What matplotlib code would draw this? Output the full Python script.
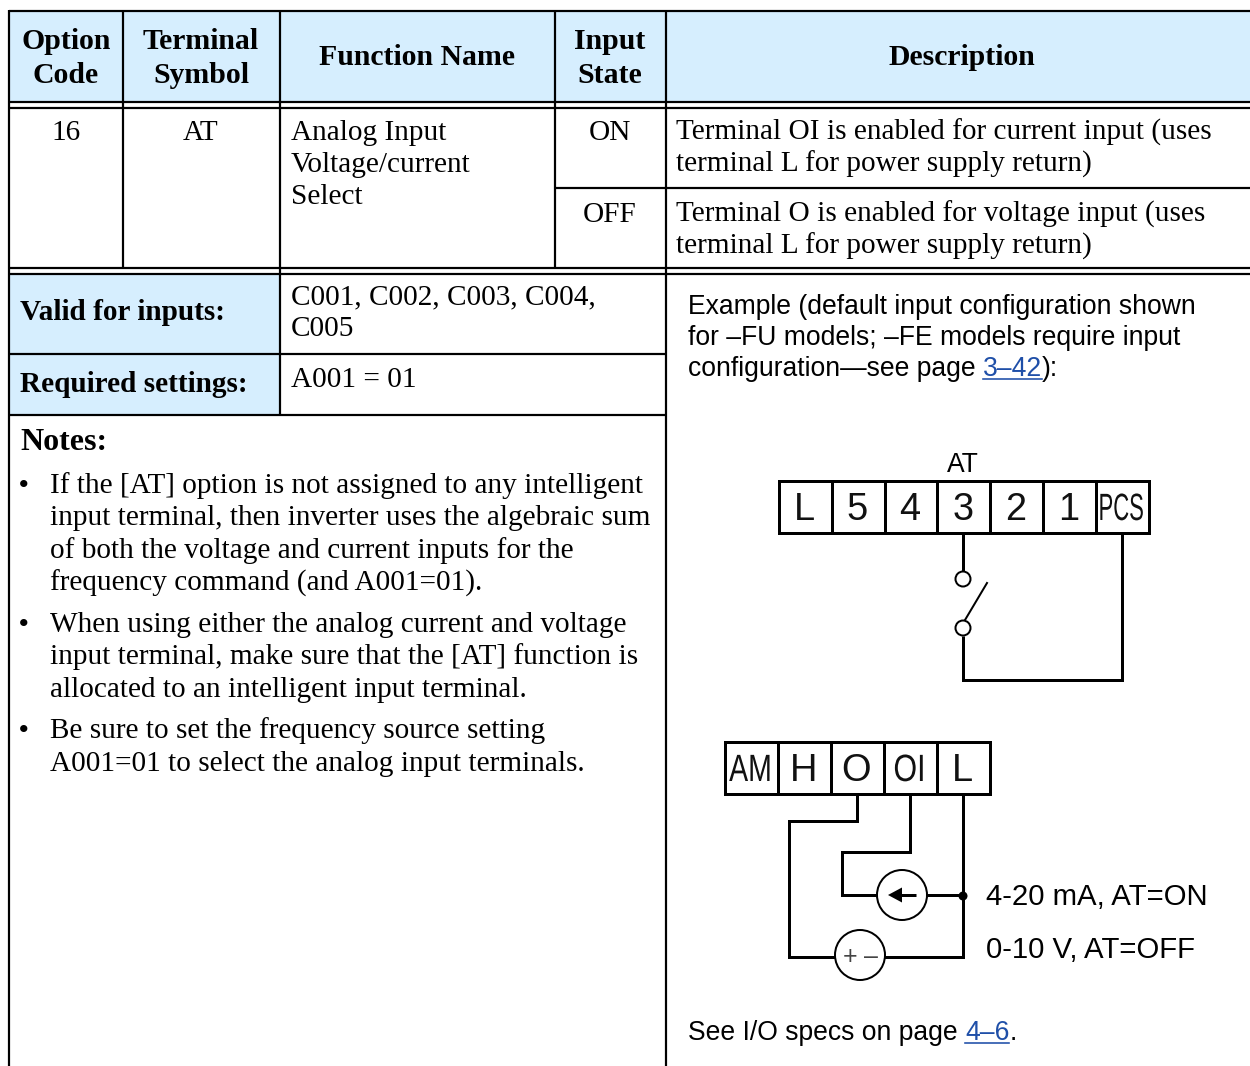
import matplotlib
matplotlib.use("Agg")
import matplotlib.pyplot as plt
import matplotlib.patheffects as pe
from matplotlib.patches import Circle, Rectangle, Polygon
from matplotlib.transforms import Affine2D

WIDTH, HEIGHT = 1250, 1066
SERIF = "Liberation Serif"
SANS = "Liberation Sans"
HEADER_BLUE = "#D6EEFE"
LINK_BLUE = "#1F4FA8"
BODY = 29.3
NOTE = 26.5

# table text
header_cells = [("Option\nCode", 66), ("Terminal\nSymbol", 201), ("Function Name", 417),
                ("Input\nState", 610), ("Description", 962)]
option_code = "16"
terminal_symbol = "AT"
function_name = ["Analog Input", "Voltage/current", "Select"]
input_states = ["ON", "OFF"]
descriptions = [["Terminal OI is enabled for current input (uses", "terminal L for power supply return)"],
                ["Terminal O is enabled for voltage input (uses", "terminal L for power supply return)"]]
valid_label = "Valid for inputs:"
valid_values = ["C001, C002, C003, C004,", "C005"]
required_label = "Required settings:"
required_value = "A001 = 01"
notes_title = "Notes:"
notes = [["If the [AT] option is not assigned to any intelligent",
          "input terminal, then inverter uses the algebraic sum",
          "of both the voltage and current inputs for the",
          "frequency command (and A001=01)."],
         ["When using either the analog current and voltage",
          "input terminal, make sure that the [AT] function is",
          "allocated to an intelligent input terminal."],
         ["Be sure to set the frequency source setting",
          "A001=01 to select the analog input terminals."]]

# diagram text
example_lines = ["Example (default input configuration shown",
                 "for \u2013FU models; \u2013FE models require input"]
example_last = ["configuration\u2014see page ", "3\u201342", "):"]
io_note = ["See I/O specs on page ", "4\u20136", "."]
top_terminals = ["L", "5", "4", "3", "2", "1", "PCS"]
bottom_terminals = ["AM", "H", "O", "OI", "L"]
current_label = "4-20 mA, AT=ON"
voltage_label = "0-10 V, AT=OFF"

fig = plt.figure(figsize=(WIDTH / 100, HEIGHT / 100), dpi=100)
ax = fig.add_axes([0, 0, 1, 1])
ax.set_xlim(0, WIDTH)
ax.set_ylim(HEIGHT, 0)
ax.axis("off")


class Squeeze(pe.AbstractPathEffect):
    # narrows a text around its centre, the terminal labels are condensed
    def __init__(self, centre, factor):
        super().__init__()
        self.centre = centre
        self.factor = factor

    def draw_path(self, renderer, gc, tpath, affine, rgbFace=None):
        squeeze = Affine2D().translate(-self.centre, 0).scale(self.factor, 1).translate(self.centre, 0)
        renderer.draw_path(gc, tpath, affine + squeeze, rgbFace)


def px(size):
    return size * 72 / 100


def wire(xs, ys, width=3):
    ax.plot(xs, ys, color="black", lw=px(width), solid_capstyle="butt", solid_joinstyle="miter", zorder=3)


def rule(xs, ys, width=2.2):
    ax.plot(xs, ys, color="black", lw=px(width), solid_capstyle="butt", zorder=4)


def put(x, y, s, size=BODY, family=SERIF, **kw):
    return ax.text(x, y, s, fontsize=px(size), family=family, va="baseline", color="black", **kw)


def put_link_line(x, y, parts, size):
    # plain, link, plain
    renderer = fig.canvas.get_renderer()
    for i, part in enumerate(parts):
        colour = LINK_BLUE if i == 1 else "black"
        t = ax.text(x, y, part, fontsize=px(size), family=SANS, va="baseline", color=colour)
        end = x + t.get_window_extent(renderer).width
        if i == 1:
            ax.plot([x, end], [y + 3, y + 3], color=LINK_BLUE, lw=px(1.6), zorder=3)
        x = end


def terminal_strip(left, top, bottom, step, labels):
    edges = [left + step * i for i in range(len(labels) + 1)]
    ax.add_patch(Rectangle((left, top), edges[-1] - left, bottom - top, fill=False, ec="black",
                           lw=px(3), joinstyle="miter", zorder=3))
    for e in edges[1:-1]:
        wire([e, e], [top, bottom])
    for i, label in enumerate(labels):
        centre = (edges[i] + edges[i + 1]) / 2 - 1
        t = ax.text(centre, bottom - 13, label, fontsize=px(38), family=SANS, ha="center", va="baseline",
                    color="#111111")
        if len(label) > 1:
            factor = {"PCS": 0.58, "AM": 0.75, "OI": 0.8}[label]
            t.set_path_effects([Squeeze(centre, factor)])


# backgrounds
ax.add_patch(Rectangle((9, 10), WIDTH - 9, 92, fc=HEADER_BLUE, ec="none"))
ax.add_patch(Rectangle((9, 274), 271, 141, fc=HEADER_BLUE, ec="none"))

# table rules
for y in [10.5, 102, 108, 268, 274]:
    rule([9, WIDTH], [y, y])
rule([555, WIDTH], [187.5, 187.5])
for y in [354, 415]:
    rule([9, 666], [y, y])
rule([9, 9], [10, HEIGHT])
rule([666, 666], [10, HEIGHT])
rule([280, 280], [10, 415])
for x in [123, 555]:
    rule([x, x], [10, 268])

# header
for label, x in header_cells:
    parts = label.split("\n")
    baselines = [49, 83] if len(parts) == 2 else [65]
    for part, y in zip(parts, baselines):
        put(x, y, part, size=29.7, weight="bold", ha="center")

# first rows
put(66, 140, option_code, ha="center")
put(201, 140, terminal_symbol, ha="center")
for i, line in enumerate(function_name):
    put(291, 140 + 32 * i, line)
for state, y in zip(input_states, [140, 222]):
    put(610, y, state, ha="center")
for lines, y in zip(descriptions, [140, 222]):
    for i, line in enumerate(lines):
        put(676, y + 32 * i, line)

# valid / required
put(20, 320, valid_label, weight="bold")
for i, line in enumerate(valid_values):
    put(291, 304 + 32 * i, line)
put(20, 392, required_label, weight="bold")
put(291, 387, required_value)

# notes
put(20, 450, notes_title, size=32, weight="bold")
y = 493
for note in notes:
    put(19, y, "\u2022", size=27, weight="bold")
    for line in note:
        put(50, y, line)
        y += 32.4
    y += 9.3

# right panel
for i, line in enumerate(example_lines):
    put(688, 314 + 31 * i, line, size=NOTE, family=SANS)
put_link_line(688, 376, example_last, NOTE)

# top terminal block
put(963, 472, "AT", size=NOTE, family=SANS, ha="center")
terminal_strip(779, 481, 533, 52.8, top_terminals)
wire([963, 963], [533, 572])
wire([963, 963, 1122, 1122], [636, 680, 680, 533])
for cy in [579, 628]:
    ax.add_patch(Circle((963, cy), 7.5, fc="white", ec="black", lw=px(2), zorder=5))
ax.plot([965, 987], [620, 583], color="black", lw=px(2), zorder=4)

# bottom terminal block
terminal_strip(725, 742, 794, 53, bottom_terminals)
wire([857, 857, 789, 789, 963, 963], [794, 821, 821, 957, 957, 794])
wire([910, 910, 842, 842, 963], [794, 852, 852, 895, 895])
ax.add_patch(Circle((902, 895), 25, fc="white", ec="black", lw=px(2), zorder=5))
ax.add_patch(Circle((860, 955), 25, fc="white", ec="black", lw=px(2), zorder=5))
ax.plot([900, 916], [895, 895], color="black", lw=px(3), zorder=6, solid_capstyle="butt")
ax.add_patch(Polygon([[888, 895], [902, 887.5], [902, 902.5]], fc="black", ec="none", zorder=6))
ax.add_patch(Circle((963, 896), 4.5, fc="black", ec="none", zorder=6))
ax.text(850, 964, "+", fontsize=px(25), family=SANS, ha="center", va="baseline", color="#444444", zorder=7)
ax.text(871, 964, "\u2013", fontsize=px(25), family=SANS, ha="center", va="baseline", color="#444444", zorder=7)

put(986, 905, current_label, size=29.4, family=SANS)
put(986, 958, voltage_label, size=29.4, family=SANS)
put_link_line(688, 1040, io_note, NOTE)

fig.savefig("out.png", dpi=100, facecolor="white")
